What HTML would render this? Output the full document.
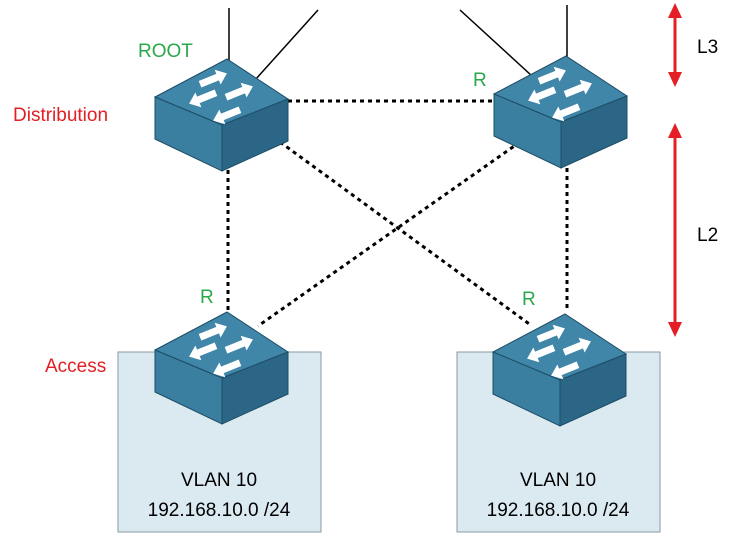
<!DOCTYPE html>
<html><head><style>body{margin:0;background:#fff}svg{display:block}</style></head><body>
<svg width="745" height="558" xmlns="http://www.w3.org/2000/svg" font-family="Liberation Sans, sans-serif">
<defs>
<polygon id="ar" points="-14,-3.5 5,-3.5 5,-8 15,0 5,8 5,3.5 -14,3.5" fill="#fff"/>
<g id="sw">
<polygon points="0,38 72,0 133,40 67,66" fill="#3f86a8" stroke="#1e4d66" stroke-width="1"/>
<polygon points="0,38 67,66 67,112 0,80" fill="#3a7fa0" stroke="#1e4d66"/>
<polygon points="67,66 133,40 133,82 67,112" fill="#2c6686" stroke="#1e4d66"/>
<use href="#ar" transform="translate(58,20) rotate(-22)"/>
<use href="#ar" transform="translate(48,39) rotate(158)"/>
<use href="#ar" transform="translate(84,33) rotate(-22)"/>
<use href="#ar" transform="translate(72,56) rotate(158)"/>
</g>
</defs>
<rect x="118" y="352" width="203" height="180" fill="#dbe9f0" stroke="#8a9aa3"/>
<rect x="457" y="352" width="203" height="180" fill="#dbe9f0" stroke="#8a9aa3"/>
<g stroke="#000" stroke-width="1.5">
<line x1="229" y1="8" x2="229" y2="62"/><line x1="318" y1="10" x2="255" y2="80"/>
<line x1="460" y1="10" x2="532" y2="76"/><line x1="567" y1="5" x2="567" y2="62"/>
</g>
<g stroke="#000" stroke-width="3" stroke-dasharray="4,4">
<line x1="288" y1="101" x2="494" y2="101"/>
<line x1="228" y1="170" x2="228" y2="315"/>
<line x1="567" y1="168" x2="567" y2="312"/>
<line x1="280" y1="142" x2="532" y2="326"/>
<line x1="520" y1="142" x2="258" y2="326"/>
</g>
<use href="#sw" x="155" y="59"/>
<use href="#sw" x="494" y="56"/>
<use href="#sw" x="155" y="312"/>
<use href="#sw" x="493" y="314"/>
<g stroke="#e31e24" stroke-width="3" fill="#e31e24">
<line x1="675" y1="14" x2="675" y2="76"/><polygon points="668,18 682,18 675,3" stroke="none"/><polygon points="668,72 682,72 675,87" stroke="none"/>
<line x1="675" y1="134" x2="675" y2="326"/><polygon points="668,138 682,138 675,123" stroke="none"/><polygon points="668,322 682,322 675,337" stroke="none"/>
</g>
<g font-size="19">
<text x="138" y="57" fill="#2aa84a">ROOT</text>
<text x="473" y="86" fill="#2aa84a">R</text>
<text x="200" y="303" fill="#2aa84a">R</text>
<text x="522" y="305" fill="#2aa84a">R</text>
<text x="13" y="121" fill="#e31e24">Distribution</text>
<text x="45" y="372" fill="#e31e24">Access</text>
<text x="697" y="53" fill="#000">L3</text>
<text x="697" y="241" fill="#000">L2</text>
<text x="219" y="486" text-anchor="middle" fill="#000">VLAN 10</text>
<text x="219" y="516" text-anchor="middle" fill="#000">192.168.10.0 /24</text>
<text x="558" y="486" text-anchor="middle" fill="#000">VLAN 10</text>
<text x="558" y="516" text-anchor="middle" fill="#000">192.168.10.0 /24</text>
</g>
</svg>
</body></html>
